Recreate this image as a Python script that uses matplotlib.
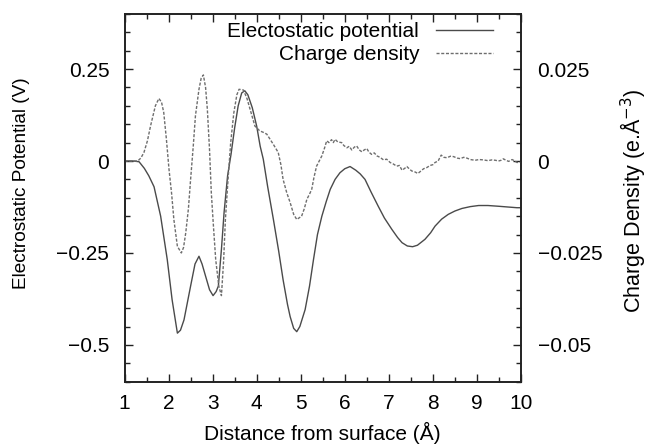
import matplotlib
matplotlib.use("Agg")
import matplotlib.pyplot as plt
from matplotlib.ticker import FixedLocator, MultipleLocator

plt.rcParams["font.family"] = ["Liberation Sans", "DejaVu Sans"]
plt.rcParams["font.size"] = 15

# Electrostatic potential (V), left axis
pot_x = [1.0, 1.2, 1.33, 1.45, 1.55, 1.67, 1.82, 1.97, 2.08, 2.2, 2.27, 2.35,
         2.5, 2.6, 2.69, 2.76, 2.84, 2.93, 3.01, 3.08, 3.13, 3.2, 3.26, 3.34,
         3.42, 3.5, 3.58, 3.66, 3.73, 3.8, 3.9, 4.0, 4.08, 4.15, 4.25, 4.38,
         4.5, 4.6, 4.7, 4.76, 4.84, 4.91, 4.98, 5.1, 5.2, 5.29, 5.38, 5.48,
         5.58, 5.67, 5.78, 5.89, 6.0, 6.12, 6.25, 6.35, 6.46, 6.6, 6.76, 6.9,
         7.07, 7.2, 7.3, 7.42, 7.54, 7.65, 7.82, 7.95, 8.05, 8.2, 8.35, 8.5,
         8.66, 8.85, 9.04, 9.25, 9.49, 9.7, 9.91, 10.0]
pot_v = [0.0, 0.0, -0.002, -0.02, -0.04, -0.07, -0.15, -0.268, -0.377, -0.468,
         -0.46, -0.432, -0.34, -0.28, -0.259, -0.28, -0.313, -0.35, -0.366,
         -0.355, -0.34, -0.24, -0.14, -0.04, 0.02, 0.09, 0.15, 0.185, 0.191,
         0.18, 0.145, 0.095, 0.04, 0.005, -0.07, -0.159, -0.245, -0.323, -0.39,
         -0.423, -0.455, -0.464, -0.45, -0.404, -0.34, -0.268, -0.2, -0.15,
         -0.11, -0.077, -0.05, -0.032, -0.021, -0.015, -0.025, -0.035, -0.05,
         -0.085, -0.123, -0.155, -0.186, -0.208, -0.222, -0.231, -0.233,
         -0.229, -0.213, -0.195, -0.177, -0.158, -0.145, -0.136, -0.129,
         -0.124, -0.121, -0.121, -0.123, -0.125, -0.127, -0.127]

# Charge density (e/A^3), right axis
rho_x = [1.0, 1.3, 1.37, 1.44, 1.52, 1.59, 1.7, 1.78, 1.84, 1.89, 1.95, 2.01,
         2.07, 2.12, 2.2, 2.29, 2.34, 2.39, 2.45, 2.5, 2.56, 2.61, 2.69, 2.74,
         2.79, 2.84, 2.88, 2.93, 2.97, 3.02, 3.07, 3.14, 3.2, 3.25, 3.29, 3.35,
         3.41, 3.48, 3.55, 3.6, 3.7, 3.78, 3.85, 3.96, 4.07, 4.15, 4.23, 4.3,
         4.38, 4.49, 4.55, 4.6, 4.68, 4.76, 4.84, 4.91, 5.02, 5.08, 5.14, 5.2,
         5.25, 5.3, 5.36, 5.42, 5.48, 5.54, 5.59, 5.64, 5.7, 5.74, 5.78, 5.84,
         5.93, 5.98, 6.05, 6.1, 6.16, 6.22, 6.27, 6.33, 6.39, 6.44, 6.5, 6.55,
         6.61, 6.67, 6.73, 6.8, 6.88, 6.95, 7.03, 7.1, 7.18, 7.24, 7.3, 7.36,
         7.41, 7.47, 7.52, 7.6, 7.66, 7.72, 7.79, 7.86, 7.94, 8.0, 8.05, 8.12,
         8.17, 8.19, 8.25, 8.32, 8.4, 8.47, 8.55, 8.62, 8.7, 8.77, 8.85, 8.96,
         9.05, 9.15, 9.25, 9.34, 9.42, 9.49, 9.55, 9.6, 9.66, 9.72, 9.8, 9.86,
         9.91, 10.0]
rho_v = [0.0, 0.0, 0.0008, 0.0023, 0.0055, 0.0095, 0.015, 0.017, 0.016,
         0.0132, 0.006, -0.0023, -0.009, -0.0159, -0.0232, -0.025, -0.0235,
         -0.0195, -0.013, -0.005, 0.004, 0.0123, 0.0195, 0.0225, 0.0234, 0.02,
         0.0141, 0.003, -0.0086, -0.018, -0.0268, -0.034, -0.0366, -0.027,
         -0.0159, -0.005, 0.005, 0.013, 0.018, 0.0195, 0.0193, 0.017, 0.0141,
         0.0095, 0.0082, 0.0078, 0.0073, 0.006, 0.0045, 0.0023, -0.001, -0.005,
         -0.0085, -0.0113, -0.0145, -0.0159, -0.015, -0.013, -0.0104, -0.009,
         -0.0077, -0.0045, -0.0014, 0.0, 0.0014, 0.0035, 0.0055, 0.005, 0.0058,
         0.005, 0.0059, 0.0052, 0.005, 0.0042, 0.0036, 0.004, 0.003, 0.0038,
         0.0041, 0.003, 0.0025, 0.003, 0.0034, 0.0024, 0.0018, 0.0022, 0.0014,
         0.001, 0.0003, 0.0005, -0.0004, -0.0008, -0.0014, -0.0012, -0.0025,
         -0.002, -0.0015, -0.0022, -0.0027, -0.003, -0.0034, -0.0028, -0.0021,
         -0.0018, -0.0012, -0.001, -0.0004, 0.0, 0.0012, 0.0016, 0.001, 0.0009,
         0.0013, 0.0012, 0.0008, 0.00065, 0.001, 0.0008, 0.0004, 0.0002,
         0.0004, 0.0003, 0.0001, 0.0003, 0.0002, 0.0, 0.0002, 0.0006, 0.0002,
         -0.0001, 0.0004, 0.0, -0.0004, -0.0003]

x_ticks = [1, 2, 3, 4, 5, 6, 7, 8, 9, 10]
left_ticks = [0.25, 0.0, -0.25, -0.5]
left_labels = ["0.25", "0", "\u22120.25", "\u22120.5"]
right_ticks = [0.025, 0.0, -0.025, -0.05]
right_labels = ["0.025", "0", "\u22120.025", "\u22120.05"]

fig = plt.figure(figsize=(6.52, 4.48), dpi=100)
ax = fig.add_axes([0.191, 0.148, 0.608, 0.821])
ax2 = ax.twinx()

l1, = ax.plot(pot_x, pot_v, color="#4a4a4a", lw=1.0,
              label="Electostatic potential")
l2, = ax2.plot(rho_x, rho_v, color="#6e6e6e", lw=1.0, dashes=(2.2, 1.2),
               label="Charge density")

ax.set_xlim(1, 10)
ax.set_ylim(-0.6, 0.4)
ax2.set_ylim(-0.06, 0.04)

ax.xaxis.set_major_locator(FixedLocator(x_ticks))
ax.xaxis.set_minor_locator(MultipleLocator(0.5))
ax.yaxis.set_major_locator(FixedLocator(left_ticks))
ax.set_yticklabels(left_labels)
ax.yaxis.set_minor_locator(MultipleLocator(0.05))
ax2.yaxis.set_major_locator(FixedLocator(right_ticks))
ax2.set_yticklabels(right_labels)
ax2.yaxis.set_minor_locator(MultipleLocator(0.005))

ax.tick_params(axis="x", which="both", direction="in", top=True,
               colors="#222222", labelcolor="black")
ax.tick_params(axis="y", which="both", direction="in", right=False,
               colors="#222222", labelcolor="black")
ax.tick_params(which="major", length=6, width=1)
ax.tick_params(which="minor", length=3.5, width=1)
ax.tick_params(axis="y", pad=11)
ax.tick_params(axis="x", pad=9)
ax2.tick_params(axis="y", which="both", direction="in",
                colors="#222222", labelcolor="black")
ax2.tick_params(which="major", length=6, width=1, pad=12)
ax2.tick_params(which="minor", length=3.5, width=1)

for a in (ax, ax2):
    for s in a.spines.values():
        s.set_linewidth(1.2)
        s.set_color("#222222")

ax.set_xlabel("Distance from surface (\u00c5)", labelpad=6)
ax.set_ylabel("Electrostatic Potential (V)", fontsize=13.7, va="center")
ax.yaxis.set_label_coords(-0.26, 0.54)
ax2.set_ylabel("Charge Density (e.\u00c5$^{-3}$)", fontsize=15.5, va="center")
ax2.yaxis.set_label_coords(1.284, 0.491)

ax2.legend([l1, l2], [l1.get_label(), l2.get_label()], loc="upper right",
           bbox_to_anchor=(0.93, 0.977), frameon=False, markerfirst=False,
           handlelength=2.75, handletextpad=0.8, labelspacing=0.18,
           borderpad=0, borderaxespad=0)

fig.savefig("out.png", dpi=100)
